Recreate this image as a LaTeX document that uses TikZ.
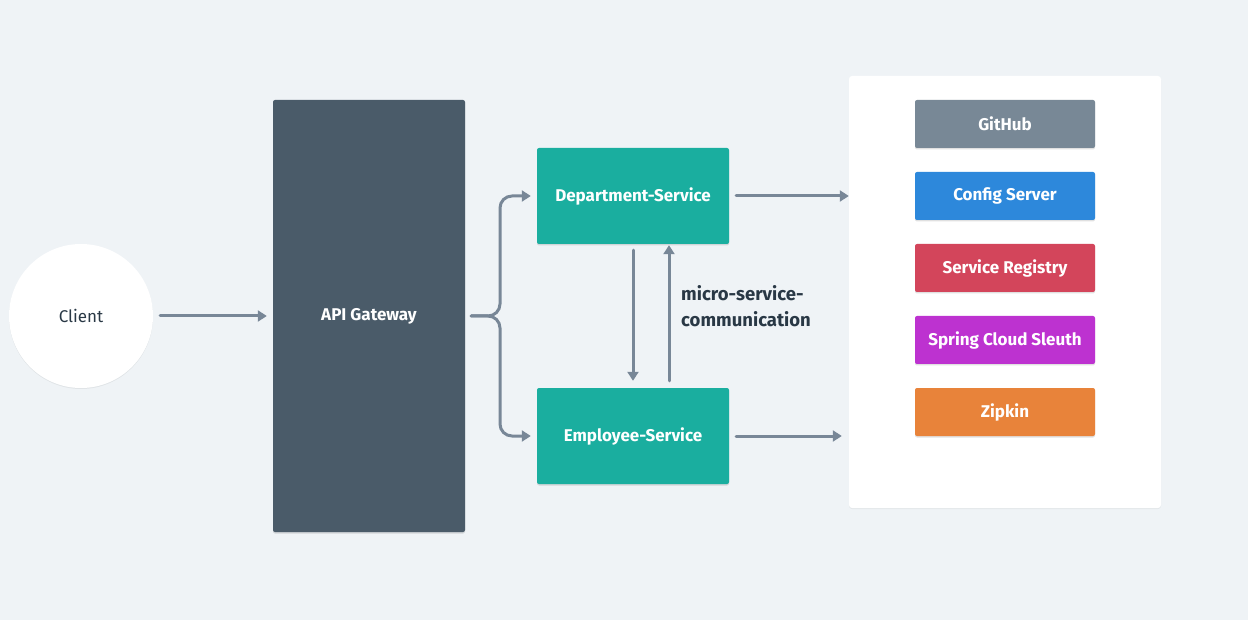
\documentclass[tikz,border=0pt]{standalone}
\usepackage{fontspec}
\setmainfont{Fira Sans}
\usetikzlibrary{arrows.meta,shadows}
\definecolor{bg}{HTML}{EFF3F6}
\definecolor{arrowc}{HTML}{788797}
\definecolor{gate}{HTML}{4A5B69}
\definecolor{teal}{HTML}{1AAE9F}
\definecolor{ghc}{HTML}{788896}
\definecolor{cfgc}{HTML}{2D88DB}
\definecolor{regc}{HTML}{D3455B}
\definecolor{sleuthc}{HTML}{BD32D0}
\definecolor{zipc}{HTML}{E8833A}
\definecolor{darktext}{HTML}{293845}
\tikzset{
  conn/.style={draw=arrowc, line width=3pt, line cap=round, -{Triangle[length=9pt,width=11pt]}},
  boxshadow/.style={drop shadow={shadow xshift=0pt, shadow yshift=-1.5pt, opacity=0.12, fill=black}},
  svc/.style={fill=teal, rounded corners=2pt, text=white, font=\bfseries\fontsize{17}{19}\selectfont, boxshadow},
  tool/.style={rounded corners=2pt, text=white, font=\bfseries\fontsize{17}{19}\selectfont, boxshadow, minimum width=180pt, minimum height=48pt, inner sep=0pt},
}
\begin{document}
\begin{tikzpicture}[x=1pt,y=-1pt]
\fill[bg] (0,0) rectangle (1248,620);
\useasboundingbox (0,0) rectangle (1248,620);
% client
\node[circle, fill=white, minimum size=144pt, inner sep=0pt, text=darktext, font=\fontsize{17}{19}\selectfont, drop shadow={shadow xshift=0pt, shadow yshift=-1pt, opacity=0.06, fill=black}] (client) at (81,316) {Client};
% gateway
\node[fill=gate, rounded corners=2pt, minimum width=192pt, minimum height=432pt, inner sep=0pt, text=white, font=\bfseries\fontsize{17}{19}\selectfont, boxshadow] (gw) at (369,316) {API Gateway};
% services
\node[svc, minimum width=192pt, minimum height=96pt, inner sep=0pt] (dept) at (633,196) {Department-Service};
\node[svc, minimum width=192pt, minimum height=96pt, inner sep=0pt] (emp) at (633,436) {Employee-Service};
% right panel
\node[fill=white, rounded corners=3pt, minimum width=312pt, minimum height=432pt, inner sep=0pt, drop shadow={shadow xshift=0pt, shadow yshift=-1pt, opacity=0.05, fill=black}] (panel) at (1005,292) {};
\node[tool, fill=ghc] (gh) at (1005,124) {GitHub};
\node[tool, fill=cfgc] (cfg) at (1005,196) {Config Server};
\node[tool, fill=regc] (reg) at (1005,268) {Service Registry};
\node[tool, fill=sleuthc] (sle) at (1005,340) {Spring Cloud Sleuth};
\node[tool, fill=zipc] (zip) at (1005,412) {Zipkin};
% connectors
\draw[conn] ([xshift=7pt]client.east) -- ([xshift=-6pt]gw.west);
\coordinate (bmid) at ([xshift=6pt]gw.east);
\draw[conn, rounded corners=12pt] (bmid) -- (500,316) -- (500,196) -- ([xshift=-6pt]dept.west);
\draw[conn, rounded corners=12pt] (bmid) -- (500,316) -- (500,436) -- ([xshift=-6pt]emp.west);
\draw[conn] ([yshift=-6pt]dept.south) -- ([yshift=7pt]emp.north);
\draw[conn] ([xshift=36pt,yshift=7pt]emp.north) -- ([xshift=36pt,yshift=-1pt]dept.south);
\node[anchor=north west, align=left, text=darktext, font=\bfseries\fontsize{18.5}{26}\selectfont, inner sep=0pt] (lbl) at (681,285) {micro-service-\\communication};
\draw[conn] ([xshift=7pt]dept.east) -- (panel.west |- dept.east);
\draw[conn] ([xshift=7pt]emp.east) -- ([xshift=-7pt]panel.west |- emp.east);
\end{tikzpicture}
\end{document}
